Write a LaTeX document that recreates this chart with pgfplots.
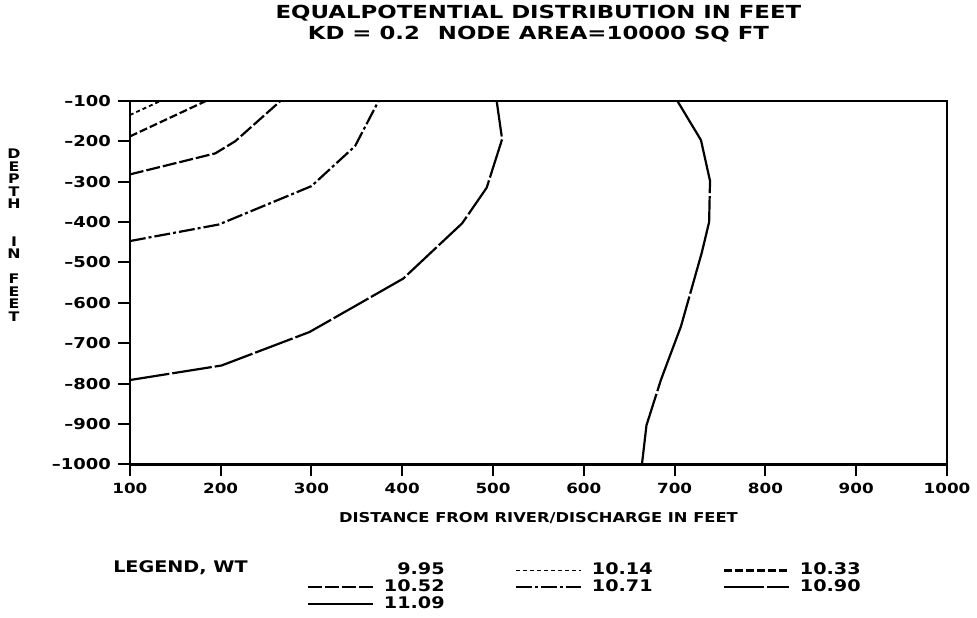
\documentclass[border=0pt]{standalone}
\usepackage{pgfplots}
\pgfplotsset{compat=1.18}
\usepackage{fontspec}
\setmainfont{DejaVu Sans}[FakeStretch=1.2]
\newfontfamily\tfont{DejaVu Sans}[FakeStretch=1.27]
\begin{document}
\bfseries
\begin{tikzpicture}
\begin{axis}[
  name=ax, at={(0,0)}, anchor=south west,
  scale only axis, width=409pt, height=182pt,
  xmin=100, xmax=1000, ymin=-1000, ymax=-100,
  xtick={100,200,300,400,500,600,700,800,900,1000},
  xticklabels={100,200,300,400,500,600,700,800,900,1000},
  ytick={-1000,-900,-800,-700,-600,-500,-400,-300,-200,-100},
  yticklabels={–1000,–900,–800,–700,–600,–500,–400,–300,–200,–100},
  xtick pos=bottom, ytick pos=left,
  tick align=outside, major tick length=6pt,
  axis line style={line width=1.1pt},
  every tick/.style={black, line width=1pt},
  xticklabel style={font=\fontsize{7}{8}\selectfont\bfseries},
  yticklabel style={font=\fontsize{7.5}{8}\selectfont\bfseries},
  title={EQUALPOTENTIAL DISTRIBUTION IN FEET\\[1.5pt]KD = 0.2\quad NODE AREA=10000 SQ FT},
  title style={at={(0.5,1)}, anchor=south, yshift=23pt, inner sep=0pt, align=center,
    font=\tfont\fontsize{9}{9}\selectfont\bfseries},
  xlabel={DISTANCE FROM RIVER/DISCHARGE IN FEET},
  xlabel style={at={(0.5,0)}, anchor=center, yshift=-27pt, inner sep=0pt,
    font=\fontsize{6.8}{8}\selectfont\bfseries},
  legend columns=3,
  legend image code/.code={\draw[#1] (0pt,0pt) -- (32.5pt,0pt); \path (0pt,4pt);},
  legend style={draw=none, fill=none, at={(0.2166,-0.2665)}, anchor=north west,
    inner sep=0pt, outer sep=0pt, row sep=0.2pt,
    font=\fontsize{8}{9}\selectfont\bfseries,
    nodes={inner sep=0pt},
    /tikz/every odd column/.append style={column sep=5pt}},
]
\addlegendimage{white, line width=0pt}
\addlegendentry{\makebox[65.5pt][l]{\phantom{1}9.95}}

\addplot[black, line width=0.9pt, dash pattern=on 2pt off 1.5pt]
  coordinates {(100,-135) (134,-100)};
\addlegendentry{\makebox[65.5pt][l]{10.14}}

\addplot[black, line width=1.1pt, dash pattern=on 4pt off 1.5pt]
  coordinates {(100,-188) (184,-100)};
\addlegendentry{\makebox[65.5pt][l]{10.33}}

\addplot[black, line width=1.1pt, dash pattern=on 7pt off 1.5pt]
  coordinates {(100,-282) (194,-230) (216,-200) (266,-100)};
\addlegendentry{\makebox[65.5pt][l]{10.52}}

\addplot[black, line width=1.1pt, dash pattern=on 8pt off 1.5pt on 1.5pt off 1.5pt]
  coordinates {(100,-447) (198,-406) (300,-311) (348,-212) (374,-100)};
\addlegendentry{\makebox[65.5pt][l]{10.71}}

\addplot[black, line width=1.1pt, dash pattern=on 20pt off 1.5pt]
  coordinates {(100,-791) (201,-755) (298,-672) (401,-540) (466,-403) (493,-315) (510,-195) (504,-100)};
\addlegendentry{\makebox[65.5pt][l]{10.90}}

\addplot[black, line width=1.1pt, dash pattern=on 50pt off 1.5pt]
  coordinates {(703,-100) (729,-197) (739,-298) (738,-400) (730,-475) (707,-658) (685,-790) (669,-903) (664,-1000)};
\addlegendentry{\makebox[65.5pt][l]{11.09}}
\end{axis}
\node[anchor=west, inner sep=0pt, font=\fontsize{8}{9}\selectfont\bfseries]
  at ([xshift=-8.5pt, yshift=-51.5pt]ax.south west) {LEGEND, WT};
\node[anchor=north, inner sep=0pt, align=center, font=\fontsize{6.6}{6.25}\selectfont\bfseries]
  at ([xshift=-58pt, yshift=-24pt]ax.north west)
  {D\\E\\P\\T\\H\\~\\~\\I\\N\\~\\F\\E\\E\\T};
\path ([shift={(-65pt,-76.5pt)}]ax.south west) rectangle ([shift={(15pt,50.5pt)}]ax.north east);
\end{tikzpicture}
\end{document}
